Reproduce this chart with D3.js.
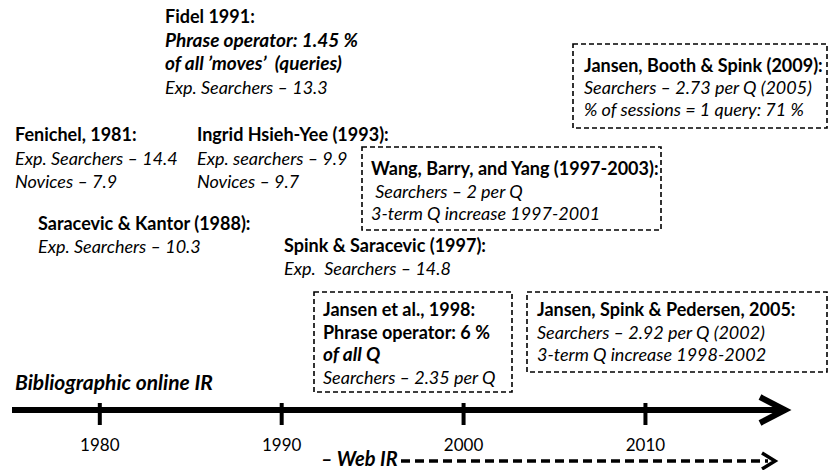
<!DOCTYPE html>
<html><head><meta charset="utf-8">
<script src="https://cdn.jsdelivr.net/npm/d3@7"></script>
<style>body{margin:0;background:#fff}svg{display:block}text{font-family:Lato,"Open Sans",sans-serif;fill:#000;white-space:pre}</style>
</head><body><svg id="c" width="832" height="470"></svg>
<script>
// ---- data ----
const tickYears = [1980, 1990, 2000, 2010];
const axisDomain = [1975.2, 2017.7];
const eraLabels = ["Bibliographic online IR", "– Web IR"];
// each note: title lines and body lines; style code: b=bold, bi=bold italic, i=italic
const noteTitles = ["Fidel 1991:", "Fenichel, 1981:", "Ingrid Hsieh-Yee (1993):", "Saracevic & Kantor (1988):",
  "Spink & Saracevic (1997):", "Wang, Barry, and Yang (1997-2003):", "Jansen, Booth & Spink (2009):",
  "Jansen et al., 1998:", "Jansen, Spink & Pedersen, 2005:"];
const noteLines = [
  [["Phrase operator: 1.45 %","bi"],["of all ’moves’  (queries)","bi"],["Exp. Searchers – 13.3","i"]],
  [["Exp. Searchers – 14.4","i"],["Novices – 7.9","i"]],
  [["Exp. searchers – 9.9","i"],["Novices – 9.7","i"]],
  [["Exp. Searchers – 10.3","i"]],
  [["Exp.  Searchers – 14.8","i"]],
  [[" Searchers – 2 per Q","i"],["3-term Q increase 1997-2001","i"]],
  [["Searchers – 2.73 per Q (2005)","i"],["% of sessions = 1 query: 71 %","i"]],
  [["Phrase operator: 6 %","b"],["of all Q","bi"],["Searchers – 2.35 per Q","i"]],
  [["Searchers – 2.92 per Q (2002)","i"],["3-term Q increase 1998-2002","i"]]
];
const noteBoxed = [false,false,false,false,false,true,true,true,true];

// ---- layout (not data) ----
const notePos = [[165,23],[15,141],[197,141],[38,230],[284,252],[371,175],[584,72],[323,316],[537,316]];
const lineH = [23.5,23.5,23.5,22.5,22.5,22.5,22,22.5,22.5];
const boxes = [null,null,null,null,null,[362,147,661,230],[573,44,827,128],[314,292,512,392],[527,292,827,372]];

const svg = d3.select("#c");
const x = d3.scaleLinear().domain(axisDomain).range([12, 785]);
const axisY = 410;

// notes
noteTitles.forEach((t,i)=>{
  const g = svg.append("g");
  const [px,py] = notePos[i];
  const all = [[t,"b"]].concat(noteLines[i]);
  all.forEach((ln,j)=>{
    const bi = ln[1] === "bi";
    g.append("text").attr("x",px).attr("y",py + j*lineH[i])
      .attr("font-size", bi ? 19 : 18)
      .attr("font-weight", ln[1].includes("b") ? "bold" : "normal")
      .attr("font-style", ln[1].includes("i") ? "italic" : "normal")
      .text(ln[0]);
  });
  if (noteBoxed[i]) {
    const b = boxes[i];
    svg.append("rect").attr("x",b[0]).attr("y",b[1]).attr("width",b[2]-b[0]).attr("height",b[3]-b[1])
      .attr("fill","none").attr("stroke","#000").attr("stroke-width",1.6).attr("stroke-dasharray","5,3");
  }
});

// era label
svg.append("text").attr("x",15).attr("y",390).attr("font-size",21).attr("font-weight","bold")
  .attr("font-style","italic").text(eraLabels[0]);

// main axis
svg.append("line").attr("x1",x(axisDomain[0])).attr("x2",x(axisDomain[1])-4).attr("y1",axisY).attr("y2",axisY)
  .attr("stroke","#000").attr("stroke-width",6);
svg.append("path").attr("d",`M${x(axisDomain[1])-25},${axisY-13} L${x(axisDomain[1])},${axisY} L${x(axisDomain[1])-25},${axisY+13}`)
  .attr("fill","none").attr("stroke","#000").attr("stroke-width",6).attr("stroke-linejoin","miter");

const axis = d3.axisBottom(x).tickValues(tickYears).tickFormat(d3.format("d")).tickSize(15).tickPadding(12);
const ag = svg.append("g").attr("transform",`translate(0,${axisY})`).call(axis);
ag.select(".domain").remove();
ag.selectAll(".tick line").attr("y1",-7).attr("y2",15).attr("stroke","#000").attr("stroke-width",4);
ag.selectAll(".tick text").attr("font-family","Lato, sans-serif").attr("font-size",17).attr("fill","#000").attr("dy","0.85em");

// web IR
svg.append("text").attr("x",321).attr("y",466).attr("font-size",20).attr("font-weight","bold")
  .attr("font-style","italic").text(eraLabels[1]);
svg.append("line").attr("x1",401).attr("x2",768).attr("y1",461).attr("y2",461)
  .attr("stroke","#000").attr("stroke-width",3.5).attr("stroke-dasharray","9,5");
svg.append("path").attr("d",`M762,453 L775,461 L762,469`).attr("fill","none").attr("stroke","#000").attr("stroke-width",3.5);
</script></body></html>
